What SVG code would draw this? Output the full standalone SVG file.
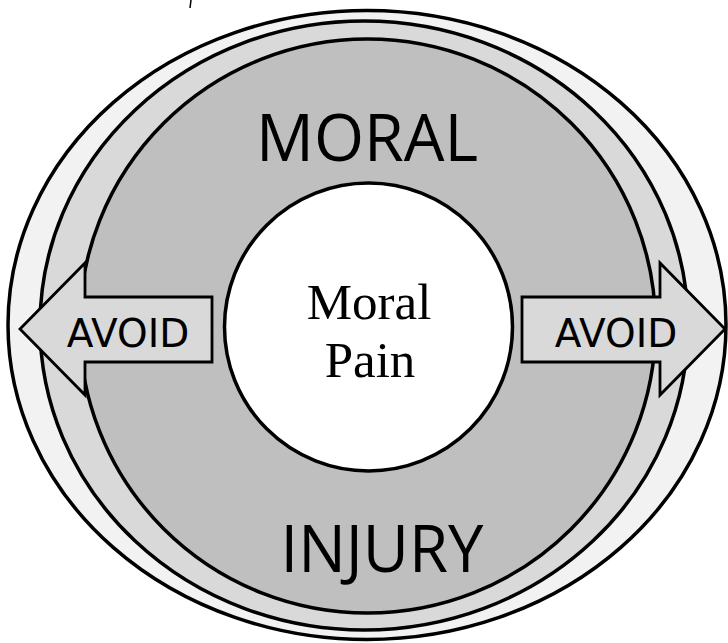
<svg xmlns="http://www.w3.org/2000/svg" width="728" height="643" viewBox="0 0 728 643">
<style>
.ring{stroke:#000;stroke-width:3.5}
.arrow{fill:#d9d9d9;stroke:#000;stroke-width:2.8;stroke-linejoin:miter}
.big{font-family:"Open Sans","Liberation Sans",sans-serif;font-size:66px;fill:#000;text-anchor:middle}
.avoid{font-family:"DejaVu Sans","Liberation Sans",sans-serif;font-size:39px;fill:#000;text-anchor:middle}
.pain{font-family:"Liberation Serif","Times New Roman",serif;font-size:51px;fill:#000;text-anchor:middle}
</style>
<rect width="728" height="643" fill="#fff"/>
<line x1="191" y1="0" x2="190" y2="8" stroke="#000" stroke-width="1.5"/>
<g id="outer-ring"><ellipse class="ring" cx="367" cy="325" rx="359" ry="314.5" fill="#f2f2f2"/></g>
<g id="middle-ring"><ellipse class="ring" cx="364" cy="325.5" rx="324" ry="304.5" fill="#d9d9d9"/></g>
<g id="moral-injury">
<ellipse class="ring" cx="367.5" cy="326" rx="288" ry="287" fill="#bfbfbf"/>
<text class="big" x="367" y="161" textLength="222" lengthAdjust="spacingAndGlyphs">MORAL</text>
<text class="big" x="382" y="572" textLength="203" lengthAdjust="spacingAndGlyphs">INJURY</text>
</g>
<g id="moral-pain">
<circle class="ring" cx="368.5" cy="327" r="144" fill="#fff"/>
<text class="pain" x="369" y="319">Moral</text>
<text class="pain" x="370" y="377">Pain</text>
</g>
<g id="connectors">
<g id="avoid-left">
<polygon class="arrow" points="212,297 85,297 85,263 20,329 85,395 85,362 212,362"/>
<text class="avoid" x="128" y="347">AVOID</text>
</g>
<g id="avoid-right">
<polygon class="arrow" points="522,297 660,297 660,263 725,329 660,395 660,362 522,362"/>
<text class="avoid" x="616" y="347">AVOID</text>
</g>
</g>
</svg>
